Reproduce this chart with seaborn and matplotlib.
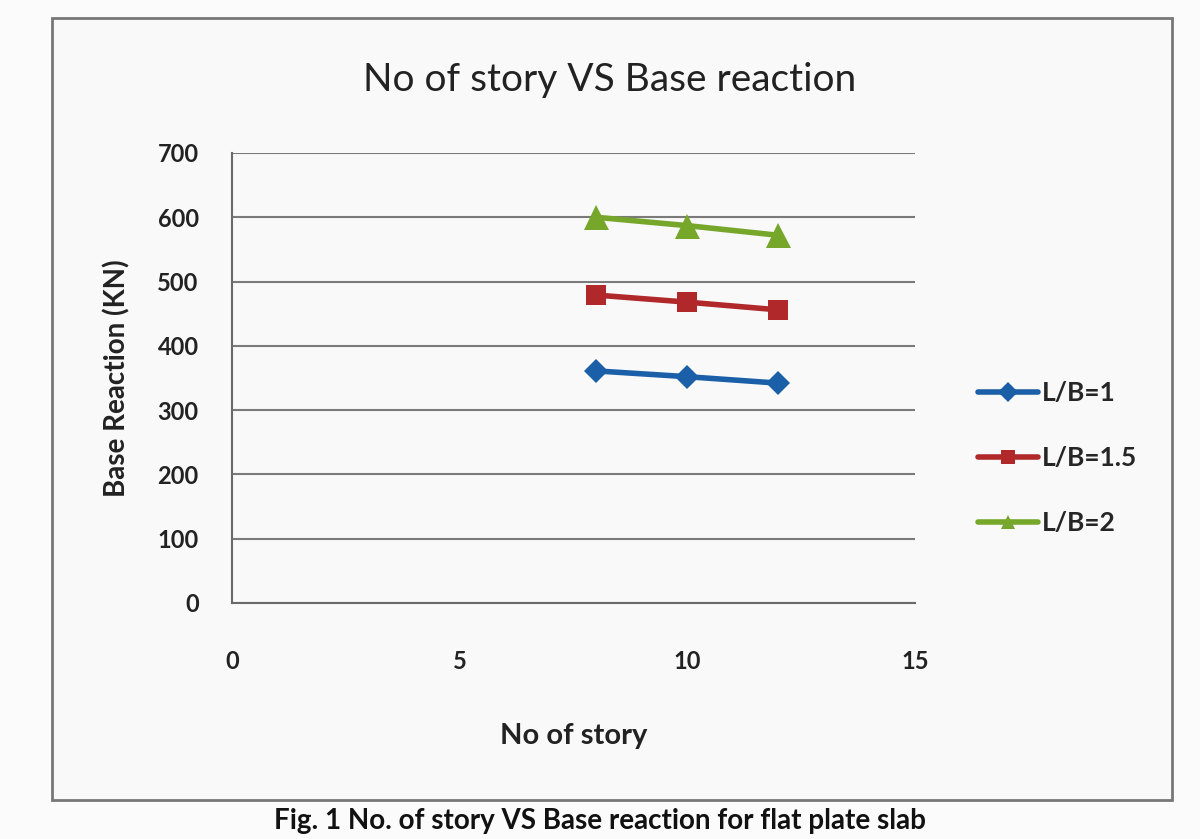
import pandas as pd
import seaborn as sns
import matplotlib.pyplot as plt
from matplotlib.patches import Rectangle

# Data
stories = [8, 10, 12]
lb_1 = [361, 352, 342]
lb_15 = [479, 468, 456]
lb_2 = [600, 587, 572]
series_names = ["L/B=1", "L/B=1.5", "L/B=2"]

df = pd.DataFrame({
    "stories": stories * 3,
    "reaction": lb_1 + lb_15 + lb_2,
    "series": [s for s in series_names for _ in stories],
})

sns.set_style("white")
plt.rcParams["font.family"] = ["Lato", "DejaVu Sans"]

fig = plt.figure(figsize=(12, 8.39), dpi=100)
fig.patch.set_facecolor("#fbfbfb")
# outer chart border
border = Rectangle((52 / 1200, 1 - 800 / 839), 1120 / 1200, 782 / 839,
                   transform=fig.transFigure, facecolor="#f9f9f9",
                   edgecolor="#777777", linewidth=2, zorder=-1)
fig.add_artist(border)

ax = fig.add_axes([232 / 1200, 1 - 603 / 839, 683 / 1200, 450 / 839])
ax.set_zorder(2)
ax.set_facecolor("none")

palette = {"L/B=1": "#1a5fa8", "L/B=1.5": "#b0282a", "L/B=2": "#76a62a"}
markers = {"L/B=1": "D", "L/B=1.5": "s", "L/B=2": "^"}
sns.lineplot(data=df, x="stories", y="reaction", hue="series", style="series",
             palette=palette, markers=markers, dashes=False, linewidth=4,
             markersize=15, markeredgewidth=0, ax=ax)

# per-marker sizes (Excel draws triangles bigger than diamonds)
marker_sizes = {"D": 12, "s": 15, "^": 18}
for line in ax.lines:
    m = line.get_marker()
    if m in marker_sizes:
        line.set_markersize(marker_sizes[m])

ax.set_xlim(0, 15)
ax.set_ylim(0, 700)
ax.set_xticks([0, 5, 10, 15])
ax.set_yticks(range(0, 701, 100))
ax.grid(axis="y", color="#7a7a7a", linewidth=1.5)
ax.set_axisbelow(True)
for side in ["top", "right"]:
    ax.spines[side].set_visible(False)
for side in ["left", "bottom"]:
    ax.spines[side].set_color("#6a6a6a")
    ax.spines[side].set_linewidth(1.5)
ax.tick_params(axis="y", length=0, labelsize=17, pad=24)
ax.tick_params(axis="x", length=0, labelsize=17, pad=34)
for lab in ax.get_xticklabels() + ax.get_yticklabels():
    lab.set_fontweight("bold")
    lab.set_color("#222222")

ax.set_xlabel("No of story", fontsize=21, fontweight="bold", labelpad=36, color="#222222")
ax.set_ylabel("Base Reaction (KN)", fontsize=20, fontweight="bold", labelpad=19, color="#222222")

fig.text(0.508, 1 - 80 / 839, "No of story VS Base reaction", ha="center", va="center",
         fontsize=28, color="#222222")

leg = ax.legend(loc="center left", bbox_to_anchor=(1.057, 0.322), frameon=False,
                handlelength=2.3, labelspacing=1.55, handletextpad=0.15,
                prop={"weight": "bold", "size": 19})
for h in leg.legend_handles:
    h.set_markersize(10)

fig.text(0.5, 1 - 808 / 839, "Fig. 1 No. of story VS Base reaction for flat plate slab",
         ha="center", va="top", fontsize=20, fontweight="bold", color="#111111")

fig.savefig("out.png", dpi=100, facecolor=fig.get_facecolor())
